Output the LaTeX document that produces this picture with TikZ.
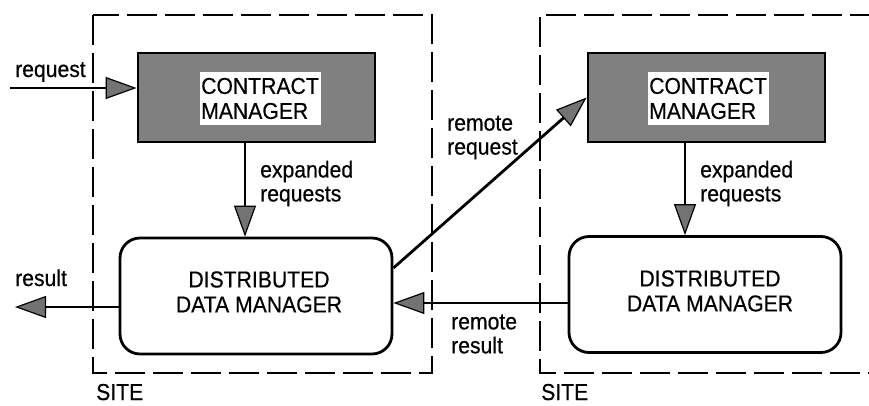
\documentclass[tikz,border=0pt]{standalone}
\usepackage{fontspec}
\setmainfont{Liberation Sans}[FakeStretch=0.92, FakeBold=0.5]
\usetikzlibrary{arrows.meta}
\begin{document}
\begin{tikzpicture}[x=1pt,y=-1pt,
  font=\fontsize{23}{25}\selectfont,
  site/.style={line width=1.8pt, dash pattern=on 30pt off 8pt},
  cmbox/.style={draw, line width=2.8pt, fill=black!50, minimum width=237pt, minimum height=89pt, inner sep=0pt},
  cmtext/.style={fill=white, align=left, inner sep=0pt, minimum width=121pt, minimum height=53pt},
  ddmbox/.style={draw, line width=2.8pt, rounded corners=20pt, minimum width=272pt, minimum height=116pt},
  ddmtext/.style={align=center, inner sep=0pt},
  flow/.style={line width=2.8pt, -{Triangle[length=31pt,width=22pt,fill=black!55,line width=1.2pt]}},
  lbl/.style={anchor=base west, inner sep=0pt},
  lbl2/.style={anchor=west, align=left, inner sep=0pt, font=\fontsize{23}{24}\selectfont},
]
\useasboundingbox (0,0) rectangle (869,405);

% the two site boundaries
\begin{scope}
  \clip (0,0) rectangle (869,405);
  \draw[site] (93,15) rectangle (432,373);
  \draw[site] (880,15) -- (540,15) -- (540,373) -- (880,373);
\end{scope}
\node[lbl] (siteL) at (96,400) {SITE};
\node[lbl] (siteR) at (541,400) {SITE};

% components of each site
\node[cmbox] (cmL) at (256.5,97.5) {};
\node[cmtext] (cmLt) at (260,98.5) {CONTRACT\\MANAGER};
\node[cmbox] (cmR) at (706.5,97.5) {};
\node[cmtext] (cmRt) at (708,98.5) {CONTRACT\\MANAGER};

\node[ddmbox] (ddmL) at (256,296) {};
\node[ddmtext] (ddmLt) at (259,292) {DISTRIBUTED\\DATA MANAGER};
\node[ddmbox] (ddmR) at (705,294.5) {};
\node[ddmtext] (ddmRt) at (710,291) {DISTRIBUTED\\DATA MANAGER};

% external request and result
\coordinate (reqIn) at (10,88);
\draw[flow] (reqIn) -- (reqIn -| cmL.west);
\node[lbl] (reqLbl) at (15,77) {request};

\coordinate (resOut) at (15,307);
\draw[flow] (resOut -| ddmL.west) -- (resOut);
\node[lbl] (resLbl) at (15,286) {result};

% expanded requests inside each site
\draw[flow] ([xshift=-11.5pt]cmL.south) -- ([xshift=-11.5pt]cmL.south |- ddmL.north);
\node[lbl2] (expL) at (260,183.5) {expanded\\requests};
\draw[flow] ([xshift=-21.5pt]cmR.south) -- ([xshift=-21.5pt]cmR.south |- ddmR.north);
\node[lbl2] (expR) at (700,183.5) {expanded\\requests};

% traffic between the sites
\draw[flow] ([yshift=28pt]ddmL.east) -- (cmR.west);
\node[lbl2] (rreq) at (447,137.5) {remote\\request};
\draw[flow] ([yshift=-8.5pt]ddmR.west) -- ([yshift=-8.5pt]ddmR.west -| ddmL.east);
\node[lbl2] (rres) at (451,334) {remote\\result};
\end{tikzpicture}
\end{document}
